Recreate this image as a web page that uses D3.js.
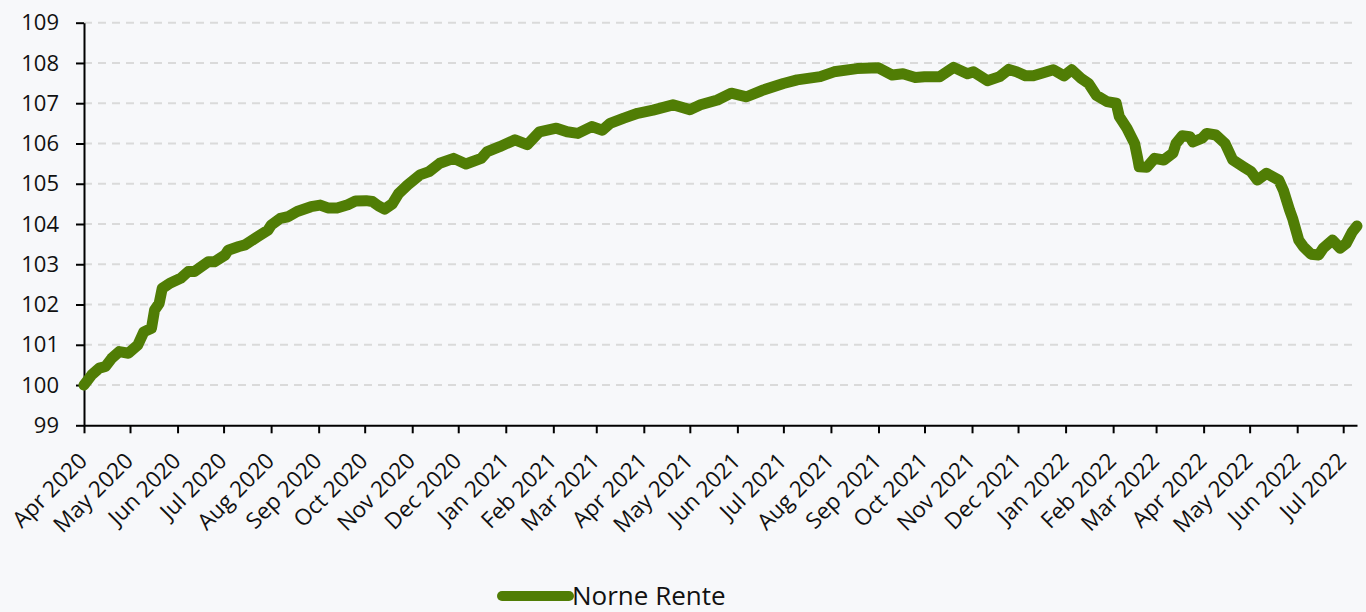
<!DOCTYPE html>
<html>
<head>
<meta charset="utf-8">
<script src="https://cdn.jsdelivr.net/npm/d3@7"></script>
<style>
  html, body { margin: 0; padding: 0; background: #f7f8fa; }
  svg { display: block; font-family: "Open Sans", sans-serif; }
</style>
</head>
<body>
<svg width="1366" height="612"></svg>
<script>
const width = 1366;
const height = 612;

// Norne Rente index
const dates = [
  "2020-04-01","2020-04-06","2020-04-11","2020-04-15","2020-04-19","2020-04-24","2020-04-30",
  "2020-05-06","2020-05-10","2020-05-15","2020-05-17","2020-05-20","2020-05-22","2020-05-27",
  "2020-06-03","2020-06-08","2020-06-12","2020-06-21","2020-06-25",
  "2020-07-02","2020-07-04","2020-07-11","2020-07-15","2020-07-23","2020-07-30",
  "2020-08-01","2020-08-07","2020-08-12","2020-08-18","2020-08-27",
  "2020-09-02","2020-09-07","2020-09-13","2020-09-20","2020-09-25",
  "2020-10-02","2020-10-06","2020-10-10","2020-10-14","2020-10-19","2020-10-23","2020-10-29",
  "2020-11-06","2020-11-12","2020-11-19","2020-11-28",
  "2020-12-06","2020-12-16","2020-12-20","2020-12-28",
  "2021-01-07","2021-01-15","2021-01-23",
  "2021-02-03","2021-02-10","2021-02-17","2021-02-26",
  "2021-03-05","2021-03-10","2021-03-19","2021-03-28",
  "2021-04-07","2021-04-20",
  "2021-05-01","2021-05-08","2021-05-19","2021-05-28",
  "2021-06-07","2021-06-18",
  "2021-07-01","2021-07-10","2021-07-25",
  "2021-08-03","2021-08-18",
  "2021-09-01","2021-09-10","2021-09-17","2021-09-25",
  "2021-10-01","2021-10-11","2021-10-20","2021-10-29",
  "2021-11-02","2021-11-11","2021-11-19","2021-11-25","2021-11-30",
  "2021-12-06","2021-12-11","2021-12-24","2021-12-31",
  "2022-01-05","2022-01-11","2022-01-16","2022-01-21","2022-01-28",
  "2022-02-03","2022-02-05","2022-02-10","2022-02-15","2022-02-17","2022-02-18","2022-02-23","2022-02-28",
  "2022-03-06","2022-03-12","2022-03-14","2022-03-18","2022-03-23","2022-03-25","2022-03-31",
  "2022-04-03","2022-04-09","2022-04-15","2022-04-20","2022-04-27",
  "2022-05-02","2022-05-06","2022-05-12","2022-05-20","2022-05-23","2022-05-27","2022-05-29",
  "2022-06-02","2022-06-05","2022-06-10","2022-06-15","2022-06-18","2022-06-24","2022-06-29",
  "2022-07-03","2022-07-07","2022-07-10"
];
const values = [
  100.00,100.25,100.42,100.46,100.66,100.83,100.79,
  100.99,101.32,101.41,101.86,102.03,102.40,102.53,
  102.65,102.82,102.82,103.06,103.06,
  103.23,103.35,103.44,103.48,103.68,103.85,
  103.97,104.14,104.18,104.31,104.43,
  104.47,104.40,104.40,104.48,104.57,
  104.58,104.56,104.45,104.37,104.50,104.75,104.97,
  105.22,105.30,105.51,105.63,
  105.49,105.63,105.80,105.92,
  106.09,105.97,106.29,
  106.38,106.29,106.25,106.42,
  106.33,106.50,106.63,106.75,
  106.83,106.96,
  106.84,106.96,107.08,107.25,
  107.16,107.33,
  107.49,107.58,107.66,
  107.78,107.86,
  107.88,107.70,107.73,107.64,
  107.66,107.66,107.89,107.73,
  107.78,107.56,107.66,107.84,107.78,
  107.68,107.68,107.83,107.68,
  107.83,107.62,107.49,107.20,107.04,
  107.00,106.67,106.38,106.00,105.63,105.42,105.41,105.63,
  105.59,105.76,106.00,106.19,106.17,106.04,106.13,
  106.25,106.21,106.00,105.59,105.42,
  105.30,105.09,105.26,105.09,104.84,104.35,104.14,
  103.60,103.44,103.25,103.23,103.40,103.60,103.40,
  103.52,103.81,103.95
];
const yTicks = [99, 100, 101, 102, 103, 104, 105, 106, 107, 108, 109];
const seriesName = "Norne Rente";

const margin = { top: 22.7, right: 9, bottom: 186.7, left: 84 };
const lineColor = "#507d05";
const fontFamily = "'Open Sans', sans-serif";

const parseDate = d3.timeParse("%Y-%m-%d");
const data = dates.map((d, i) => ({ date: parseDate(d), value: values[i] }));

const xScale = d3.scaleTime()
  .domain(d3.extent(data, d => d.date))
  .range([margin.left, width - margin.right]);

const yScale = d3.scaleLinear()
  .domain([99, 109])
  .range([height - margin.bottom, margin.top]);

const svg = d3.select("svg");

svg.append("rect")
  .attr("width", width).attr("height", height)
  .attr("fill", "#f7f8fa");

// dashed gridlines
svg.append("g")
  .selectAll("line")
  .data(yTicks.filter(t => t > 99))
  .enter().append("line")
  .attr("x1", margin.left)
  .attr("x2", width - margin.right)
  .attr("y1", d => yScale(d))
  .attr("y2", d => yScale(d))
  .attr("stroke", "#dadada")
  .attr("stroke-width", 2)
  .attr("stroke-dasharray", "8,6");

// x axis
const xAxis = d3.axisBottom(xScale)
  .ticks(d3.timeMonth.every(1))
  .tickFormat(d3.timeFormat("%b %Y"))
  .tickSize(8)
  .tickSizeOuter(0);

const gx = svg.append("g")
  .attr("transform", `translate(0, ${yScale(99)})`)
  .call(xAxis)
  .attr("font-family", fontFamily)
  .attr("font-size", 22.5);

gx.select(".domain").attr("stroke", "#000").attr("stroke-width", 2);
gx.selectAll(".tick line").attr("stroke", "#000").attr("stroke-width", 2);
gx.selectAll(".tick text")
  .attr("x", 0).attr("y", 0).attr("dy", 0)
  .attr("text-anchor", "end")
  .attr("transform", "translate(4, 37) rotate(-45)")
  .attr("fill", "#111");

// y axis
const yAxis = d3.axisLeft(yScale)
  .tickValues(yTicks)
  .tickFormat(d3.format("d"))
  .tickSize(8)
  .tickSizeOuter(0)
  .tickPadding(17);

const gy = svg.append("g")
  .attr("transform", `translate(${margin.left}, 0)`)
  .call(yAxis)
  .attr("font-family", fontFamily)
  .attr("font-size", 22);

gy.select(".domain").attr("stroke", "#000").attr("stroke-width", 2);
gy.selectAll(".tick line").attr("stroke", "#000").attr("stroke-width", 2);
gy.selectAll(".tick text").attr("fill", "#111");

// the series line
const line = d3.line()
  .x(d => xScale(d.date))
  .y(d => yScale(d.value));

svg.append("path")
  .datum(data)
  .attr("d", line)
  .attr("fill", "none")
  .attr("stroke", lineColor)
  .attr("stroke-width", 11)
  .attr("stroke-linejoin", "round")
  .attr("stroke-linecap", "round");

// legend
const legend = svg.append("g").attr("transform", "translate(502, 596)");
legend.append("line")
  .attr("x1", 0).attr("x2", 67)
  .attr("y1", 0).attr("y2", 0)
  .attr("stroke", lineColor)
  .attr("stroke-width", 10)
  .attr("stroke-linecap", "round");
legend.append("text")
  .attr("x", 70).attr("y", 8.5)
  .style("font-family", fontFamily)
  .style("font-size", "26px")
  .attr("fill", "#111")
  .text(seriesName);
</script>
</body>
</html>
